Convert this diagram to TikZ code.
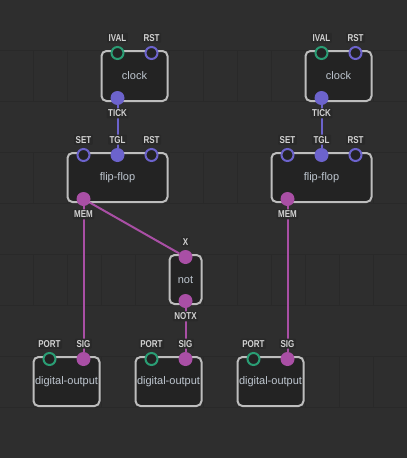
\documentclass[tikz,border=0pt]{standalone}
\usepackage{fontspec}
\setmainfont{Liberation Sans}
\newfontfamily\pinfont[FakeStretch=0.8]{Liberation Sans}
\usetikzlibrary{positioning}
\definecolor{patchbg}{HTML}{2E2E2E}
\definecolor{gridline}{HTML}{292929}
\definecolor{bodyfill}{HTML}{232323}
\definecolor{bodyline}{HTML}{BDBDBD}
\definecolor{titletext}{HTML}{BEC6CF}
\definecolor{labeltext}{HTML}{D2D2D2}
\definecolor{labelfill}{HTML}{292929}
\definecolor{pulsecol}{HTML}{6C63CC}
\definecolor{boolcol}{HTML}{A94FA5}
\definecolor{portcol}{HTML}{2A9D74}
\tikzset{
  patchnode/.style={draw=bodyline,line width=2pt,fill=bodyfill,rounded corners=5pt,
    font=\fontsize{11}{13}\selectfont,text=titletext,inner sep=0pt},
  pinfree/.style={circle,draw=#1,line width=2pt,fill=bodyfill,minimum size=12pt,inner sep=0pt},
  pinlinked/.style={circle,fill=#1,minimum size=14pt,inner sep=0pt},
  pinlabel/.style={font=\pinfont\bfseries\fontsize{10}{12}\selectfont,text=labeltext,fill=labelfill,
    rounded corners=1pt,inner sep=1.5pt,minimum height=10pt},
  link/.style={line width=2pt,draw=#1}
}
\begin{document}
\begin{tikzpicture}[x=1pt,y=-1pt]
\fill[patchbg] (0,0) rectangle (406,458);
\foreach \y in {50,152,254,356}
  \foreach \x in {33,67,...,373}
    \draw[gridline,line width=1pt] (\x,\y) -- (\x,\y+51);
\foreach \y in {50,101,...,407}
  \draw[gridline,line width=1pt] (0,\y) -- (406,\y);

\node[patchnode,minimum width=66pt,minimum height=50pt] (clockA) at (134,76) {clock};
\node[patchnode,minimum width=66pt,minimum height=50pt] (clockB) at (338,76) {clock};
\node[patchnode,minimum width=100pt,minimum height=49pt] (ffA) at (117,177.5) {flip-flop};
\node[patchnode,minimum width=100pt,minimum height=49pt] (ffB) at (321,177.5) {flip-flop};
\node[patchnode,minimum width=32pt,minimum height=49pt] (notA) at (185,279.5) {not};
\node[patchnode,minimum width=66pt,minimum height=49pt] (outA) at (66,381.5) {digital-output};
\node[patchnode,minimum width=66pt,minimum height=49pt] (outB) at (168,381.5) {digital-output};
\node[patchnode,minimum width=66pt,minimum height=49pt] (outC) at (270,381.5) {digital-output};

\node[pinfree=portcol] (clockA-ival) at (117,53) {};
\node[pinfree=pulsecol] (clockA-rst) at (151,53) {};
\node[pinlinked=pulsecol] (clockA-tick) at (117,98) {};
\node[pinfree=portcol] (clockB-ival) at (321,53) {};
\node[pinfree=pulsecol] (clockB-rst) at (355,53) {};
\node[pinlinked=pulsecol] (clockB-tick) at (321,98) {};

\node[pinfree=pulsecol] (ffA-set) at (83,155) {};
\node[pinlinked=pulsecol] (ffA-tgl) at (117,155) {};
\node[pinfree=pulsecol] (ffA-rst) at (151,155) {};
\node[pinlinked=boolcol] (ffA-mem) at (83,199) {};
\node[pinfree=pulsecol] (ffB-set) at (287,155) {};
\node[pinlinked=pulsecol] (ffB-tgl) at (321,155) {};
\node[pinfree=pulsecol] (ffB-rst) at (355,155) {};
\node[pinlinked=boolcol] (ffB-mem) at (287,199) {};

\node[pinlinked=boolcol] (notA-x) at (185,257) {};
\node[pinlinked=boolcol] (notA-notx) at (185,301) {};

\node[pinfree=portcol] (outA-port) at (49,359) {};
\node[pinlinked=boolcol] (outA-sig) at (83,359) {};
\node[pinfree=portcol] (outB-port) at (151,359) {};
\node[pinlinked=boolcol] (outB-sig) at (185,359) {};
\node[pinfree=portcol] (outC-port) at (253,359) {};
\node[pinlinked=boolcol] (outC-sig) at (287,359) {};

\draw[link=pulsecol] (clockA-tick) -- (ffA-tgl);
\draw[link=pulsecol] (clockB-tick) -- (ffB-tgl);
\draw[link=boolcol] (ffA-mem) -- (outA-sig);
\draw[link=boolcol] (ffA-mem) -- (notA-x);
\draw[link=boolcol] (notA-notx) -- (outB-sig);
\draw[link=boolcol] (ffB-mem) -- (outC-sig);

\node[pinlabel,above=3pt of clockA-ival] {IVAL};
\node[pinlabel,above=3pt of clockA-rst] {RST};
\node[pinlabel,below=3pt of clockA-tick] {TICK};
\node[pinlabel,above=3pt of clockB-ival] {IVAL};
\node[pinlabel,above=3pt of clockB-rst] {RST};
\node[pinlabel,below=3pt of clockB-tick] {TICK};
\node[pinlabel,above=3pt of ffA-set] {SET};
\node[pinlabel,above=3pt of ffA-tgl] {TGL};
\node[pinlabel,above=3pt of ffA-rst] {RST};
\node[pinlabel,below=3pt of ffA-mem] {MEM};
\node[pinlabel,above=3pt of ffB-set] {SET};
\node[pinlabel,above=3pt of ffB-tgl] {TGL};
\node[pinlabel,above=3pt of ffB-rst] {RST};
\node[pinlabel,below=3pt of ffB-mem] {MEM};
\node[pinlabel,above=3pt of notA-x] {X};
\node[pinlabel,below=3pt of notA-notx] {NOTX};
\node[pinlabel,above=3pt of outA-port] {PORT};
\node[pinlabel,above=3pt of outA-sig] {SIG};
\node[pinlabel,above=3pt of outB-port] {PORT};
\node[pinlabel,above=3pt of outB-sig] {SIG};
\node[pinlabel,above=3pt of outC-port] {PORT};
\node[pinlabel,above=3pt of outC-sig] {SIG};
\end{tikzpicture}
\end{document}
